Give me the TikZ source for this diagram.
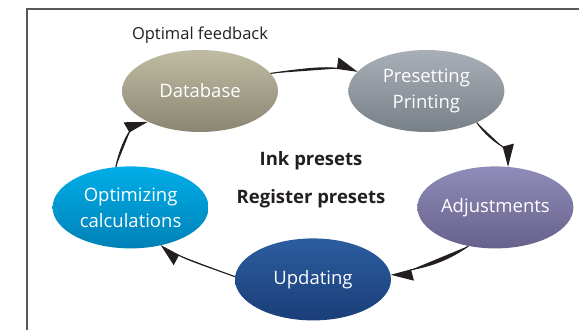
\documentclass[tikz,border=0pt]{standalone}
\usepackage{fontspec}
\setmainfont{Open Sans}
\usetikzlibrary{shapes.geometric,arrows.meta,positioning}

\definecolor{dbtop}{HTML}{BFBCA3}
\definecolor{dbbot}{HTML}{8A8672}
\definecolor{pptop}{HTML}{A9AFB6}
\definecolor{ppbot}{HTML}{788087}
\definecolor{adjtop}{HTML}{908CB9}
\definecolor{adjbot}{HTML}{66628B}
\definecolor{updtop}{HTML}{2B5D9F}
\definecolor{updbot}{HTML}{1A3E78}
\definecolor{opttop}{HTML}{00AEE9}
\definecolor{optbot}{HTML}{0081B6}
\definecolor{ink}{HTML}{231F20}

\tikzset{
  stage/.style={ellipse, minimum width=156pt, minimum height=82pt, inner sep=0pt,
    text=white, align=center, font=\fontsize{18.5}{26}\selectfont},
  flow/.style={-{Triangle[left, length=20pt, width=22pt]}, line width=1.1pt, draw=ink, fill=ink},
  note/.style={text=ink, font=\fontsize{18.5}{22}\selectfont\bfseries}
}

\begin{document}
\begin{tikzpicture}[x=1pt, y=-1pt]
    \useasboundingbox (0,0) rectangle (579,330);
    \draw[line width=1.3pt, draw=black!65] (27,330) -- (27,9) -- (579,9);

    \node[stage, top color=dbtop, bottom color=dbbot] (db) at (200,91) {Database};
    \node[stage, top color=pptop, bottom color=ppbot, right=70pt of db] (pp) {Presetting\\Printing};
    \node[stage, top color=adjtop, bottom color=adjbot, below=34pt of pp, xshift=69pt] (adj) {Adjustments};
    \node[stage, top color=updtop, bottom color=updbot, left=26pt of adj, yshift=-72pt] (upd) {Updating};
    \node[stage, top color=opttop, bottom color=optbot, left=26pt of upd, yshift=72pt] (opt) {Optimizing\\calculations};

    \node[text=ink, font=\fontsize{16.5}{20}\selectfont] (fb) at (200,35) {Optimal feedback};
    \node[note] (inkp) at (311,161) {Ink presets};
    \node[note] (regp) at (311,199) {Register presets};

    % the loop, clockwise
    \draw[flow] (db.14) to[out=8, in=172] (pp.164);
    \draw[flow] (pp.-32) to[out=-55, in=105] (adj.72);
    \draw[flow] (adj.-125) to[out=215, in=15] (upd.3);
    \draw[flow] (upd.178) to[out=160, in=-28] (opt.-52);
    \draw[flow] (opt.110) to[out=78, in=210] (db.210);
\end{tikzpicture}
\end{document}
